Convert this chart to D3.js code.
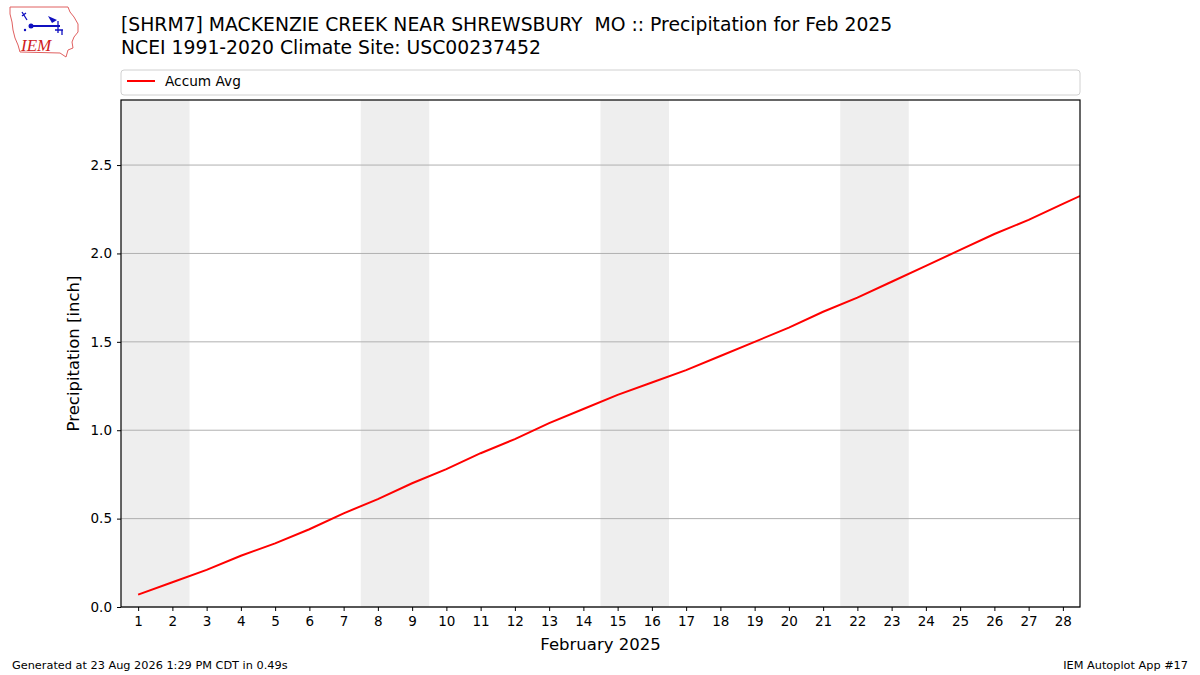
<!DOCTYPE html>
<html><head><meta charset="utf-8">
<script src="https://cdn.jsdelivr.net/npm/d3@7"></script>
<style>body{margin:0;background:#fff}svg{display:block}text{font-family:"DejaVu Sans",sans-serif;white-space:pre}</style>
</head><body><svg id="c" width="1200" height="675"></svg>
<script>
const days = [1,2,3,4,5,6,7,8,9,10,11,12,13,14,15,16,17,18,19,20,21,22,23,24,25,26,27,28,29];
const accumAvg = [0.07,0.14,0.21,0.29,0.36,0.44,0.53,0.61,0.70,0.78,0.87,0.95,1.04,1.12,1.20,1.27,1.34,1.42,1.50,1.58,1.67,1.75,1.84,1.93,2.02,2.11,2.19,2.28,2.37];
const weekendStarts = [1,8,15,22];
const xTicks = d3.range(1,29);
const yTicks = [0,0.5,1.0,1.5,2.0,2.5];
const titleLines = ["[SHRM7] MACKENZIE CREEK NEAR SHREWSBURY  MO :: Precipitation for Feb 2025","NCEI 1991-2020 Climate Site: USC00237452"];

const svg = d3.select("#c");
const L=121,R=1080,T=100,B=607;
const x = d3.scaleLinear().domain([0.5,28.5]).range([L,R]);
const y = d3.scaleLinear().domain([0,2.868]).range([B,T]);

svg.append("g").selectAll("rect").data(weekendStarts).join("rect")
  .attr("x",d=>x(d-0.5)).attr("width",d=>x(d+1.5)-x(d-0.5))
  .attr("y",T).attr("height",B-T).attr("fill","#eeeeee");

svg.append("g").selectAll("line").data(yTicks).join("line")
  .attr("x1",L).attr("x2",R).attr("y1",d=>y(d)).attr("y2",d=>y(d))
  .attr("stroke","#b0b0b0").attr("stroke-width",1);

svg.append("clipPath").attr("id","clip").append("rect").attr("x",L).attr("y",T).attr("width",R-L).attr("height",B-T);
svg.append("path").datum(days.map((d,i)=>[d,accumAvg[i]]))
  .attr("clip-path","url(#clip)")
  .attr("d",d3.line().x(d=>x(d[0])).y(d=>y(d[1])))
  .attr("fill","none").attr("stroke","#ff0000").attr("stroke-width",2);

const gx = svg.append("g").attr("transform",`translate(0,${B})`)
  .call(d3.axisBottom(x).tickValues(xTicks).tickFormat(d3.format("d")).tickSize(4).tickPadding(5));
const gy = svg.append("g").attr("transform",`translate(${L},0)`)
  .call(d3.axisLeft(y).tickValues(yTicks).tickFormat(d3.format(".1f")).tickSize(4).tickPadding(5));
[gx,gy].forEach(g=>{g.select(".domain").remove();g.selectAll("text").attr("font-size",13.5).attr("fill","#000").style("font-family","DejaVu Sans");g.selectAll("line").attr("stroke","#000");});
svg.append("rect").attr("x",L).attr("y",T).attr("width",R-L).attr("height",B-T).attr("fill","none").attr("stroke","#000").attr("stroke-width",1.2);

svg.append("text").attr("x",(L+R)/2).attr("y",650).attr("text-anchor","middle").attr("font-size",16.5).text("February 2025");
svg.append("text").attr("transform",`translate(79,${(T+B)/2}) rotate(-90)`).attr("text-anchor","middle").attr("font-size",16.5).text("Precipitation [inch]");

svg.selectAll("text.title").data(titleLines).join("text").attr("class","title")
  .attr("x",121).attr("y",(d,i)=>31+i*23).attr("font-size",18.8).text(d=>d);

svg.append("rect").attr("x",121).attr("y",70).attr("width",959).attr("height",25).attr("rx",3)
  .attr("fill","#fff").attr("stroke","#d0d0d0");
svg.append("line").attr("x1",127).attr("x2",155).attr("y1",81).attr("y2",81).attr("stroke","#ff0000").attr("stroke-width",2);
svg.append("text").attr("x",165).attr("y",86).attr("font-size",13.7).text("Accum Avg");

svg.append("text").attr("x",12).attr("y",669).attr("font-size",11.3).text("Generated at 23 Aug 2026 1:29 PM CDT in 0.49s");
svg.append("text").attr("x",1188).attr("y",669).attr("text-anchor","end").attr("font-size",11.3).text("IEM Autoplot App #17");

const lg = svg.append("g");
lg.append("path").attr("d","M10,7 L68,7 L70,12 L74,17 L78,24 L78,32 L74,37 L72,42 L73,48 L68,50 L66,57 L60,53 L20,52 L18,45 L15,38 L13,30 L12,22 L10,14 Z")
  .attr("fill","#fff").attr("stroke","#e06060").attr("stroke-width",1);
lg.append("line").attr("x1",31).attr("x2",60).attr("y1",26).attr("y2",26).attr("stroke","#1010c0").attr("stroke-width",2);
lg.append("circle").attr("cx",31).attr("cy",26).attr("r",2.5).attr("fill","#1010c0");
lg.append("path").attr("d","M48,16 L57,20 L52,23 Z").attr("fill","#1010c0");
lg.append("path").attr("d","M22,12 L27,20 M22,16 L26,13 M58,21 L58,33 M55,30 L63,30 M62,30 L62,35").attr("stroke","#1010c0").attr("stroke-width",1.3).attr("fill","none");
lg.append("circle").attr("cx",25).attr("cy",30).attr("r",1.2).attr("fill","#1010c0");
lg.append("text").attr("x",21).attr("y",51).attr("font-size",17).attr("font-style","italic").attr("fill","#d02020").style("font-family","Liberation Serif").text("IEM");
</script></body></html>
